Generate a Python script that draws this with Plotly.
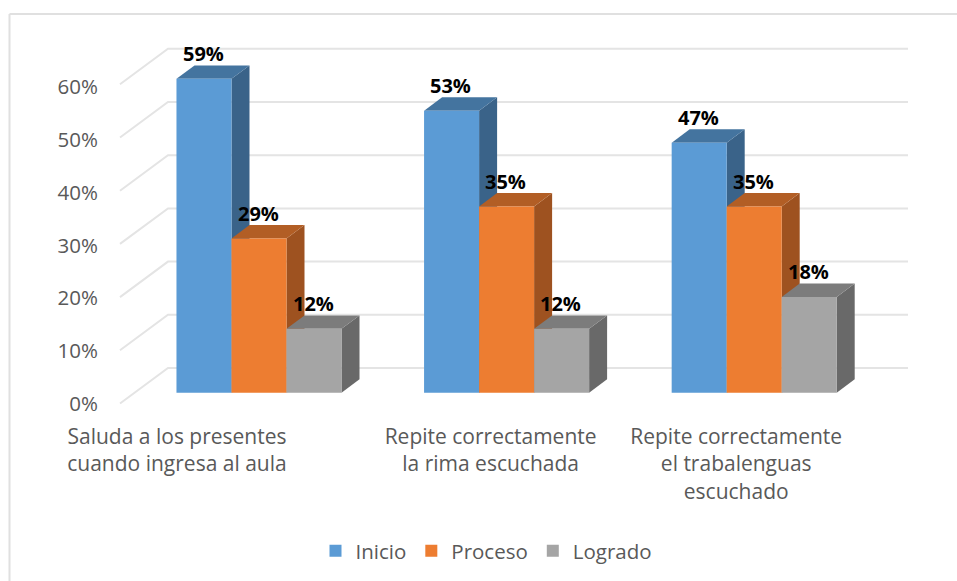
import plotly.graph_objects as go

W, H = 957, 581
categories = ["Saluda a los presentes<br>cuando ingresa al aula",
              "Repite correctamente<br>la rima escuchada",
              "Repite correctamente<br>el trabalenguas<br>escuchado"]
series_names = ["Inicio", "Proceso", "Logrado"]
inicio = [59, 53, 47]
proceso = [29, 35, 35]
logrado = [12, 12, 18]
y_ticks = [0, 10, 20, 30, 40, 50, 60]
y_tick_text = ["0%", "10%", "20%", "30%", "40%", "50%", "60%"]
label_offsets_px = [-82, -16, -18]   # category label shift from group centre

front_colors = ["#5B9BD5", "#ED7D31", "#A5A5A5"]
top_colors = ["#44749F", "#B25E25", "#7C7C7C"]
side_colors = ["#3A6389", "#9E5220", "#696969"]
grid_color = "#E4E4E4"
frame_color = "#E0E0E0"
text_color = "#595959"
font = "Open Sans"

# scales (pixels)
PX_X = 247.6          # per group
X0_PX = 259.0         # first group centre
PX_Y = 5.32           # per percentage point
TICK_PX_Y = 5.27      # spacing of the axis labels
BAR_BASE_PX = 392.7
WALL_BASE_PX = 403.5
BAR_W = 55 / PX_X
DX, DY = 18 / PX_X, 13.4 / PX_Y          # bar depth
WDX, WDY = 48 / PX_X, 35.5 / PX_Y        # floor depth
WALL_LEFT = (120 - X0_PX) / PX_X
WALL_RIGHT = (908 - X0_PX) / PX_X

xr = [-X0_PX / PX_X, (W - X0_PX) / PX_X]
bar_yr = [(BAR_BASE_PX - H) / PX_Y, BAR_BASE_PX / PX_Y]
wall_yr = [(WALL_BASE_PX - H) / PX_Y, WALL_BASE_PX / PX_Y]

fig = go.Figure()

# wall gridlines, with the leading diagonal on the floor side
for t in y_ticks:
    fig.add_trace(go.Scatter(
        x=[WALL_LEFT, WALL_LEFT + WDX, WALL_RIGHT], y=[t, t + WDY, t + WDY],
        mode="lines", line=dict(color=grid_color, width=2),
        showlegend=False, hoverinfo="skip", xaxis="x", yaxis="y"))

# bar depth faces
all_values = [inicio, proceso, logrado]
for s, values in enumerate(all_values):
    for g, v in enumerate(values):
        x0 = g - 1.5 * BAR_W + s * BAR_W
        x1 = x0 + BAR_W
        fig.add_trace(go.Scatter(
            x=[x1, x1 + DX, x1 + DX, x1, x1], y=[0, DY, v + DY, v, 0],
            mode="lines", fill="toself", fillcolor=side_colors[s],
            line=dict(width=0, color=side_colors[s]),
            showlegend=False, hoverinfo="skip", xaxis="x2", yaxis="y2"))
        fig.add_trace(go.Scatter(
            x=[x0, x1, x1 + DX, x0 + DX, x0], y=[v, v, v + DY, v + DY, v],
            mode="lines", fill="toself", fillcolor=top_colors[s],
            line=dict(width=0, color=top_colors[s]),
            showlegend=False, hoverinfo="skip", xaxis="x2", yaxis="y2"))

# bar fronts
for s, values in enumerate(all_values):
    fig.add_trace(go.Bar(
        x=[0, 1, 2], y=values, name=series_names[s],
        marker=dict(color=front_colors[s], line=dict(width=0)),
        xaxis="x3", yaxis="y3"))

# data labels
annotations = []
for s, values in enumerate(all_values):
    for g, v in enumerate(values):
        annotations.append(dict(
            x=g - BAR_W + s * BAR_W, y=v, xref="x3", yref="y3", text=f"<b>{v}%</b>",
            showarrow=False, yshift=25, xshift=-1,
            font=dict(family=font, size=20, color="#000000")))

hidden = dict(visible=False, range=xr, fixedrange=True, automargin=False)
fig.update_layout(
    width=W, height=H, margin=dict(l=0, r=0, t=0, b=0, autoexpand=False),
    paper_bgcolor="#FFFFFF", plot_bgcolor="rgba(0,0,0,0)",
    barmode="group", bargap=1 / 3, bargroupgap=0,
    font=dict(family=font, color=text_color, size=20),
    annotations=annotations,
    xaxis=dict(domain=[0, 1], range=xr, showgrid=False, zeroline=False, showline=False,
               tickmode="array",
               tickvals=[g + o / PX_X for g, o in enumerate(label_offsets_px)],
               ticktext=categories, ticks="", tickangle=0, automargin=False,
               tickfont=dict(family=font, size=21, color=text_color),
               side="bottom", anchor="free", position=1 - 422 / H, fixedrange=True),
    yaxis=dict(domain=[0, 1], range=wall_yr, showgrid=False, zeroline=False, showline=False,
               tickmode="array", tickvals=[t * TICK_PX_Y / PX_Y for t in y_ticks],
               ticktext=y_tick_text, ticks="", automargin=False,
               tickfont=dict(family=font, size=20.5, color=text_color),
               anchor="free", position=98 / W, fixedrange=True),
    xaxis2=dict(overlaying="x", **hidden),
    yaxis2=dict(overlaying="y", visible=False, range=bar_yr, fixedrange=True, automargin=False),
    xaxis3=dict(overlaying="x", **hidden),
    yaxis3=dict(overlaying="y", visible=False, range=bar_yr, fixedrange=True, automargin=False),
    legend=dict(orientation="h", x=0.5 + 8 / W, xanchor="center", y=1 - 551 / H, yanchor="middle",
                font=dict(family=font, size=20.5, color=text_color),
                bgcolor="rgba(0,0,0,0)"),
    shapes=[dict(type="line", xref="paper", yref="paper",
                 x0=9.5 / W, x1=1, y0=1 - 14 / H, y1=1 - 14 / H,
                 line=dict(color=frame_color, width=2), layer="below"),
            dict(type="line", xref="paper", yref="paper",
                 x0=9.5 / W, x1=9.5 / W, y0=1 - 14 / H, y1=0,
                 line=dict(color=frame_color, width=2), layer="below")],
)

fig.write_html("out.html", config={"displayModeBar": False},
               post_script="document.body.style.margin='0';")
